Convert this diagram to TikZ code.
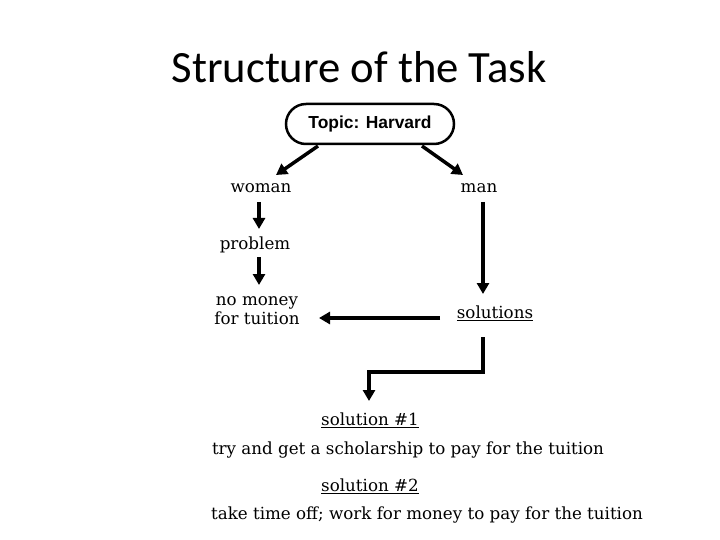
\documentclass[tikz,border=0pt]{standalone}
\usepackage{fontspec}
\setmainfont{DejaVu Serif}
\newfontfamily\titlefont{Carlito}
\newfontfamily\topicfont{Liberation Sans}
\usetikzlibrary{arrows.meta}
\begin{document}
\begin{tikzpicture}[x=1pt,y=-1pt,
  lbl/.style={inner sep=0pt, font=\fontsize{16.7}{19}\selectfont, align=center},
  arr/.style={line width=3.5pt, -{Triangle[width=12pt,length=11pt]}},
  heavy/.style={line width=3.5pt}]
\useasboundingbox[fill=white] (0,0) rectangle (720,540);
\node[inner sep=0pt, font=\titlefont\fontsize{44.7}{48}\selectfont] (title) at (359,67) {Structure of the Task};
\node[draw, line width=2.5pt, rounded corners=20pt, minimum width=168pt, minimum height=40pt, inner sep=0pt,
  font=\topicfont\bfseries\fontsize{17.4}{19}\selectfont] (topic) at (370,124) {Topic: Harvard};
\node[lbl] (woman) at (261,188) {woman};
\node[lbl] (man) at (479,188) {man};
\node[lbl] (problem) at (255,245) {problem};
\node[lbl] (nomoney) at (257,311) {no money\\for tuition};
\node[lbl] (solutions) at (495,313) {\underline{solutions}};
\node[lbl] (sol1) at (370,420) {\underline{solution \#1}};
\node[lbl] (try) at (408,450) {try and get a scholarship to pay for the tuition};
\node[lbl] (sol2) at (370,486) {\underline{solution \#2}};
\node[lbl] (take) at (427,515) {take time off; work for money to pay for the tuition};
\coordinate (a1s) at (318,146); \coordinate (a1e) at (276,175);
\coordinate (a2s) at (422,146); \coordinate (a2e) at (463,175);
\draw[arr] (a1s) -- (a1e);
\draw[arr] (a2s) -- (a2e);
\draw[arr] (259,202) -- (259,229);
\draw[arr] (259,257) -- (259,285);
\draw[arr] (483,202) -- (483,294);
\draw[arr] (440,318) -- (319,318);
\draw[arr] (483,337) -- (483,372) -- (369,372) -- (369,401);
\end{tikzpicture}
\end{document}
